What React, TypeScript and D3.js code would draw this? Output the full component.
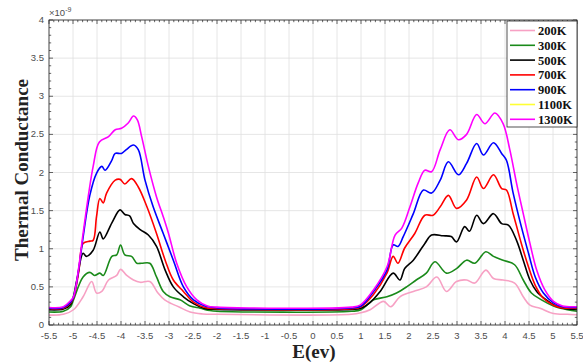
import React from "react";
import * as d3 from "d3";

type P = [number, number];

const t200: P[] = [[-5.5,0.13],[-5.2,0.14],[-4.99,0.2],[-4.79,0.37],[-4.61,0.57],[-4.51,0.42],[-4.4,0.44],[-4.26,0.59],[-4.09,0.65],[-4.01,0.73],[-3.88,0.65],[-3.74,0.59],[-3.6,0.56],[-3.4,0.57],[-3.23,0.42],[-3.09,0.33],[-2.95,0.28],[-2.8,0.24],[-2.56,0.17],[-2.3,0.145],[-2.0,0.14],[0.8,0.14],[1.0,0.16],[1.19,0.2],[1.47,0.31],[1.62,0.24],[1.81,0.37],[2.09,0.44],[2.36,0.5],[2.58,0.63],[2.78,0.44],[2.99,0.57],[3.2,0.59],[3.37,0.55],[3.6,0.72],[3.76,0.61],[3.96,0.59],[4.2,0.55],[4.38,0.37],[4.52,0.26],[4.73,0.22],[5.01,0.15],[5.3,0.14],[5.5,0.135]];
const t300: P[] = [[-5.5,0.17],[-5.2,0.18],[-5.05,0.24],[-4.99,0.33],[-4.79,0.63],[-4.65,0.69],[-4.55,0.65],[-4.44,0.68],[-4.37,0.65],[-4.19,0.9],[-4.09,0.92],[-4.01,1.05],[-3.92,0.92],[-3.78,0.9],[-3.67,0.81],[-3.57,0.81],[-3.4,0.81],[-3.26,0.63],[-3.12,0.44],[-2.98,0.37],[-2.77,0.33],[-2.56,0.25],[-2.35,0.22],[-2.15,0.19],[-2.0,0.18],[0.8,0.18],[1.0,0.2],[1.26,0.33],[1.54,0.37],[1.74,0.42],[1.95,0.5],[2.15,0.59],[2.36,0.68],[2.54,0.83],[2.78,0.68],[2.99,0.74],[3.2,0.85],[3.37,0.81],[3.6,0.96],[3.76,0.9],[3.96,0.85],[4.2,0.79],[4.38,0.59],[4.55,0.42],[4.76,0.33],[5.01,0.25],[5.3,0.2],[5.5,0.18]];
const t500: P[] = [[-5.5,0.2],[-5.2,0.21],[-5.05,0.27],[-4.92,0.59],[-4.79,0.94],[-4.72,0.9],[-4.58,0.98],[-4.44,1.22],[-4.37,1.13],[-4.19,1.34],[-4.02,1.51],[-3.92,1.45],[-3.82,1.43],[-3.74,1.33],[-3.6,1.25],[-3.43,1.18],[-3.26,1.03],[-3.08,0.72],[-2.91,0.5],[-2.7,0.37],[-2.49,0.28],[-2.25,0.215],[-2.0,0.205],[0.8,0.205],[1.0,0.22],[1.2,0.3],[1.4,0.44],[1.67,0.68],[1.81,0.59],[1.91,0.74],[2.09,0.85],[2.33,1.07],[2.47,1.18],[2.71,1.17],[2.88,1.16],[2.99,1.09],[3.16,1.29],[3.26,1.23],[3.41,1.44],[3.55,1.33],[3.76,1.46],[3.93,1.33],[4.07,1.31],[4.24,1.11],[4.38,0.85],[4.52,0.59],[4.66,0.44],[4.86,0.33],[5.1,0.24],[5.3,0.21],[5.5,0.205]];
const t700: P[] = [[-5.5,0.215],[-5.2,0.22],[-5.05,0.29],[-4.99,0.35],[-4.88,0.7],[-4.79,1.07],[-4.65,1.1],[-4.58,1.11],[-4.51,1.42],[-4.44,1.66],[-4.37,1.6],[-4.3,1.73],[-4.12,1.9],[-4.02,1.91],[-3.92,1.85],[-3.78,1.92],[-3.64,1.81],[-3.46,1.55],[-3.26,1.2],[-3.08,0.85],[-2.91,0.59],[-2.7,0.44],[-2.49,0.3],[-2.25,0.23],[-2.0,0.215],[0.8,0.215],[1.0,0.24],[1.26,0.4],[1.54,0.68],[1.67,0.9],[1.77,0.81],[1.91,1.01],[2.12,1.2],[2.33,1.44],[2.5,1.44],[2.65,1.55],[2.82,1.7],[2.99,1.53],[3.2,1.64],[3.41,1.94],[3.55,1.79],[3.76,1.97],[3.93,1.79],[4.03,1.77],[4.17,1.46],[4.34,1.07],[4.49,0.76],[4.63,0.52],[4.8,0.35],[5.01,0.26],[5.2,0.225],[5.5,0.22]];
const t900: P[] = [[-5.5,0.22],[-5.2,0.23],[-5.05,0.3],[-4.99,0.36],[-4.88,0.74],[-4.79,1.15],[-4.65,1.7],[-4.51,1.99],[-4.4,2.08],[-4.33,2.03],[-4.2,2.15],[-4.12,2.25],[-3.99,2.25],[-3.89,2.3],[-3.74,2.36],[-3.64,2.3],[-3.5,1.9],[-3.33,1.55],[-3.12,1.2],[-2.91,0.85],[-2.7,0.5],[-2.49,0.33],[-2.25,0.25],[-2.0,0.225],[0.8,0.225],[1.0,0.25],[1.26,0.44],[1.54,0.72],[1.67,1.05],[1.77,1.03],[1.88,1.16],[2.09,1.46],[2.3,1.77],[2.47,1.73],[2.65,1.9],[2.82,2.14],[3.03,1.97],[3.2,2.12],[3.41,2.38],[3.55,2.23],[3.76,2.39],[3.93,2.25],[4.03,2.16],[4.17,1.73],[4.34,1.29],[4.49,0.94],[4.63,0.63],[4.8,0.42],[5.01,0.29],[5.2,0.24],[5.5,0.23]];
const t1100: P[] = [];
const t1300: P[] = [[-5.5,0.23],[-5.2,0.24],[-5.05,0.32],[-4.99,0.37],[-4.88,0.76],[-4.79,1.2],[-4.58,2.08],[-4.45,2.4],[-4.26,2.47],[-4.12,2.56],[-3.99,2.58],[-3.85,2.65],[-3.74,2.74],[-3.66,2.69],[-3.57,2.47],[-3.43,2.08],[-3.26,1.68],[-3.12,1.42],[-3.01,1.2],[-2.84,0.81],[-2.63,0.5],[-2.42,0.33],[-2.2,0.25],[-2.0,0.235],[0.8,0.235],[0.98,0.26],[1.26,0.46],[1.54,0.76],[1.71,1.18],[1.85,1.27],[2.02,1.55],[2.19,1.86],[2.33,2.03],[2.47,2.01],[2.65,2.3],[2.85,2.56],[3.03,2.43],[3.2,2.5],[3.41,2.76],[3.58,2.64],[3.79,2.78],[3.96,2.64],[4.1,2.3],[4.24,1.86],[4.38,1.46],[4.52,1.07],[4.66,0.72],[4.83,0.46],[5.01,0.31],[5.2,0.25],[5.5,0.24]];

const seriesNames = ["200K", "300K", "500K", "700K", "900K", "1100K", "1300K"];
const seriesData = [t200, t300, t500, t700, t900, t1100, t1300];
const seriesColors = ["#f7a1c4", "#1a8a1a", "#000000", "#ff0000", "#0000ff", "#ffff33", "#ff00ff"];

const xTicks = [-5.5, -5, -4.5, -4, -3.5, -3, -2.5, -2, -1.5, -1, -0.5, 0, 0.5, 1, 1.5, 2, 2.5, 3, 3.5, 4, 4.5, 5, 5.5];
const yTicks = [0, 0.5, 1, 1.5, 2, 2.5, 3, 3.5, 4];

export default function App() {
  const W = 583, H = 364;
  const left = 49, right = 577, top = 20, bottom = 325;
  const x = d3.scaleLinear().domain([-5.5, 5.5]).range([left, right]);
  const y = d3.scaleLinear().domain([0, 4]).range([bottom, top]);
  const line = d3.line<P>().x(d => x(d[0])).y(d => y(d[1])).curve(d3.curveCatmullRom.alpha(0.5));
  const xMinor = d3.range(-55, 56).map(v => v / 10);
  const yMinor = d3.range(0, 41).map(v => v / 10);
  const axisColor = "#262626";
  const tickFont = "'Liberation Sans', Arial, sans-serif";
  const serif = "'Liberation Serif', 'Times New Roman', serif";
  const legX = 507, legY = 21, legW = 70, legH = 106;
  return (
    <svg width={W} height={H} style={{ position: "absolute", left: 0, top: 0, background: "#fff" }}>
      <rect x={0} y={0} width={W} height={H} fill="#fff" />
      {xTicks.map(t => (
        <line key={"gx" + t} x1={x(t)} x2={x(t)} y1={top} y2={bottom} stroke="#e0e0e0" strokeWidth={0.8} />
      ))}
      {yTicks.map(t => (
        <line key={"gy" + t} x1={left} x2={right} y1={y(t)} y2={y(t)} stroke="#e0e0e0" strokeWidth={0.8} />
      ))}
      {seriesData.map((d, i) => d.length ? (
        <path key={"s" + i} d={line(d) || ""} fill="none" stroke={seriesColors[i]} strokeWidth={1.6} />
      ) : null)}
      <rect x={left} y={top} width={right - left} height={bottom - top} fill="none" stroke={axisColor} strokeWidth={0.8} />
      {xMinor.map((t, i) => {
        const major = Math.abs(t * 2 - Math.round(t * 2)) < 1e-6;
        const L = major ? 4 : 2.2;
        return (
          <g key={"xm" + i}>
            <line x1={x(t)} x2={x(t)} y1={bottom} y2={bottom - L} stroke={axisColor} strokeWidth={0.7} />
            <line x1={x(t)} x2={x(t)} y1={top} y2={top + L} stroke={axisColor} strokeWidth={0.7} />
          </g>
        );
      })}
      {yMinor.map((t, i) => {
        const major = Math.abs(t * 2 - Math.round(t * 2)) < 1e-6;
        const L = major ? 4 : 2.2;
        return (
          <g key={"ym" + i}>
            <line x1={left} x2={left + L} y1={y(t)} y2={y(t)} stroke={axisColor} strokeWidth={0.7} />
            <line x1={right} x2={right - L} y1={y(t)} y2={y(t)} stroke={axisColor} strokeWidth={0.7} />
          </g>
        );
      })}
      {xTicks.map(t => (
        <text key={"xl" + t} x={x(t)} y={bottom + 13.5} fontFamily={tickFont} fontSize={9.5} fill="#4d4d4d" textAnchor="middle">{String(t)}</text>
      ))}
      {yTicks.map(t => (
        <text key={"yl" + t} x={left - 5} y={y(t) + 3} fontFamily={tickFont} fontSize={9.5} fill="#4d4d4d" textAnchor="end">{String(t)}</text>
      ))}
      <text x={left} y={top - 4} fontFamily={tickFont} fontSize={9.5} fill="#4d4d4d">
        ×10<tspan dy={-4} fontSize={7}>-9</tspan>
      </text>
      <text x={(left + right) / 2 + 1} y={358} fontFamily={serif} fontWeight="bold" fontSize={19} fill="#222" textAnchor="middle">E(ev)</text>
      <text transform={`translate(28,170) rotate(-90)`} fontFamily={serif} fontWeight="bold" fontSize={19} fill="#222" textAnchor="middle">Thermal Conductance</text>
      <rect x={legX} y={legY} width={legW} height={legH} fill="#fff" stroke={axisColor} strokeWidth={0.8} />
      {seriesNames.map((n, i) => {
        const yy = legY + 9.5 + i * 14.8;
        return (
          <g key={"lg" + i}>
            <line x1={legX + 3} x2={legX + 28} y1={yy} y2={yy} stroke={seriesColors[i]} strokeWidth={1.6} />
            <text x={legX + 31} y={yy + 4.5} fontFamily={serif} fontWeight="bold" fontSize={12.5} fill="#111">{n}</text>
          </g>
        );
      })}
    </svg>
  );
}
